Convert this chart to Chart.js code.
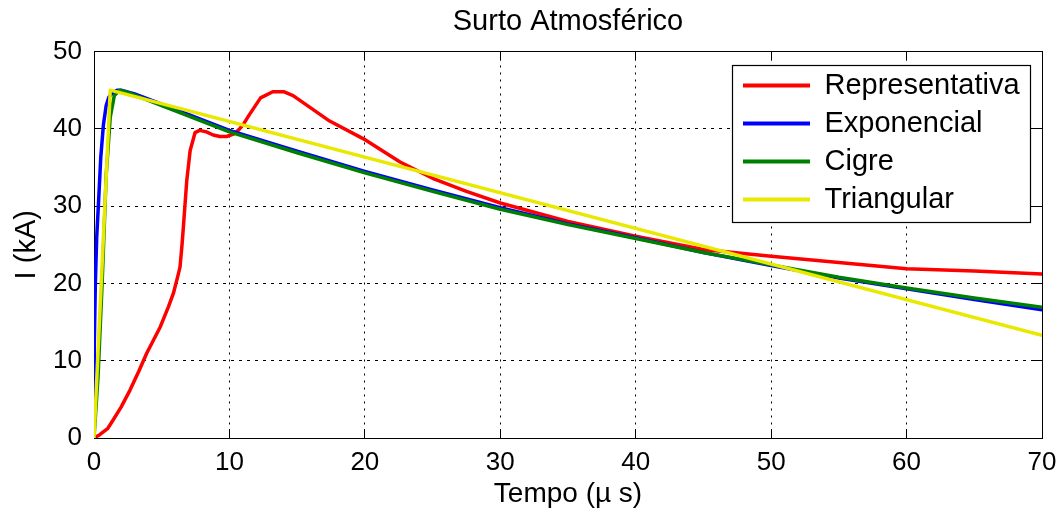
<!DOCTYPE html>
<html>
<head>
<meta charset="utf-8">
<script src="https://cdn.jsdelivr.net/npm/chart.js@4.4.1/dist/chart.umd.min.js"></script>
<style>
  html, body { margin: 0; padding: 0; background: #fff; }
  canvas { display: block; }
</style>
</head>
<body>
<canvas id="c" width="1061" height="513"></canvas>
<script>
// ---- data ----
const chartTitle = 'Surto Atmosférico';
const xTitle = 'Tempo (\u00b5 s)';
const yTitle = 'I (kA)';
const seriesNames = ['Representativa', 'Exponencial', 'Cigre', 'Triangular'];
const seriesColors = ['#ff0000', '#0000ff', '#008000', '#e8e800'];

const repT = [0, 0.4, 1.0, 1.4, 2.0, 2.66, 3.3, 3.9, 4.9, 5.5, 5.86, 6.2, 6.35, 6.5, 6.6, 6.85, 7.1, 7.46, 7.8, 8.3, 8.8, 9.3, 9.8, 10.3, 10.7, 11.0, 11.5, 12.3, 13.2, 14.0, 14.7, 16.0, 17.4, 19.9, 22.6, 25, 27.5, 30, 35, 40, 45, 50, 55, 60, 65, 70];
const repI = [0, 0.4, 1.2, 2.3, 4.0, 6.2, 8.6, 11.0, 14.4, 17.0, 18.7, 21.0, 22.1, 25.0, 27.3, 33.3, 37.2, 39.5, 39.8, 39.6, 39.2, 39.0, 39.0, 39.3, 39.9, 40.5, 41.9, 44.0, 44.8, 44.8, 44.3, 42.7, 41.0, 38.7, 35.7, 33.6, 31.9, 30.4, 28.0, 26.1, 24.4, 23.5, 22.7, 21.9, 21.6, 21.2];

const expT = [0, 0.02, 0.1, 0.2, 0.32, 0.5, 0.7, 0.9, 1.1, 1.4, 1.7, 2.0, 3, 5, 10, 15, 20, 25, 30, 35, 40, 45, 50, 55, 60, 65, 70];
const expI = [0, 12, 20, 26, 30, 36.3, 40.6, 43.0, 44.1, 44.7, 45.0, 45.0, 44.5, 43.2, 39.8, 37.1, 34.5, 32.1, 29.8, 27.7, 25.9, 24.0, 22.3, 20.7, 19.3, 17.9, 16.6];

const cigT = [0, 0.3, 0.6, 0.9, 1.2, 1.5, 1.9, 2.5, 5, 10, 15, 20, 25, 30, 35, 40, 45, 50, 55, 60, 65, 70];
const cigI = [0, 8, 20, 34, 41.5, 44.3, 45.0, 44.7, 43.0, 39.6, 36.9, 34.3, 31.9, 29.6, 27.6, 25.8, 24.0, 22.4, 20.8, 19.4, 18.1, 16.9];

const triT = [0, 1.2, 70];
const triI = [0, 45, 13.3];

const xTicksMin = 0, xTicksMax = 70, xStep = 10;
const yTicksMin = 0, yTicksMax = 50, yStep = 10;

// ---- build ----
function pts(ts, is) { return ts.map((t, k) => ({x: t, y: is[k]})); }
const seriesData = [pts(repT, repI), pts(expT, expI), pts(cigT, cigI), pts(triT, triI)];
const drawOrder = [4, 3, 2, 1]; // later series on top, like the original

Chart.defaults.font.family = "'Liberation Sans', Arial, Helvetica, sans-serif";
Chart.defaults.color = '#000';

const W = 1061;
const plotLeft = 94, plotRight = 1042, plotBottom = 438;

const legendPlacer = {
  id: 'legendPlacer',
  afterLayout(chart) {
    const lg = chart.legend;
    if (!lg) return;
    lg.left = 734; lg.top = 62; lg.right = 1031; lg.bottom = 240;
    lg.width = lg.right - lg.left; lg.height = lg.bottom - lg.top;
    if (!lg.__wrapped) {
      const orig = lg.draw;
      lg.draw = function (area) {
        const ctx = this.ctx;
        ctx.save();
        ctx.fillStyle = '#ffffff';
        ctx.fillRect(732, 65, 299, 158);
        ctx.strokeStyle = '#000';
        ctx.lineWidth = 1.2;
        ctx.strokeRect(732.5, 65.5, 298, 157);
        ctx.restore();
        orig.call(this, area);
      };
      lg.__wrapped = true;
    }
  }
};

const gridCommon = { color: '#000', lineWidth: 1, drawTicks: true, tickLength: -9, tickColor: '#000', tickWidth: 1 };

new Chart(document.getElementById('c'), {
  type: 'line',
  data: {
    datasets: seriesData.map((d, k) => ({
      label: seriesNames[k],
      data: d,
      borderColor: seriesColors[k],
      backgroundColor: seriesColors[k],
      borderWidth: 3.5,
      pointRadius: 0,
      tension: 0,
      fill: false,
      borderJoinStyle: 'round',
      borderCapStyle: 'round',
      order: drawOrder[k]
    }))
  },
  options: {
    responsive: false,
    devicePixelRatio: 1,
    animation: false,
    layout: { padding: 0 },
    plugins: {
      title: {
        display: true,
        text: chartTitle,
        fullSize: false,
        font: { size: 29, weight: 'normal' },
        color: '#000',
        padding: { top: 4.6, bottom: 12.1 }
      },
      legend: {
        display: true,
        position: 'chartArea',
        align: 'start',
        labels: {
          boxWidth: 67,
          boxHeight: 4,
          padding: 9,
          font: { size: 29 },
          color: '#000',
          generateLabels: (chart) => chart.data.datasets.map((ds, i) => ({
            text: ds.label, fillStyle: ds.borderColor, strokeStyle: ds.borderColor,
            lineWidth: 0, hidden: false, datasetIndex: i, fontColor: '#000'
          }))
        }
      },
      tooltip: { enabled: false }
    },
    scales: {
      x: {
        type: 'linear', position: 'bottom', min: xTicksMin, max: xTicksMax,
        afterFit: (s) => { s.height = 513 - plotBottom; s.paddingLeft = 0; s.paddingRight = 0; },
        ticks: { stepSize: xStep, autoSkip: false, maxRotation: 0, font: { size: 26 }, padding: 18.4, color: '#000' },
        grid: gridCommon,
        border: { display: true, color: '#000', width: 1, dash: [2, 5] },
        title: { display: true, text: xTitle, font: { size: 28 }, color: '#000', padding: { top: 0, bottom: 2 } }
      },
      y: {
        type: 'linear', position: 'left', min: yTicksMin, max: yTicksMax,
        afterFit: (s) => { s.width = plotLeft; s.paddingTop = 0; s.paddingBottom = 0; },
        ticks: { stepSize: yStep, font: { size: 26 }, padding: 21, color: '#000' },
        grid: gridCommon,
        border: { display: true, color: '#000', width: 1, dash: [3, 5] },
        title: { display: true, text: yTitle, font: { size: 29 }, color: '#000', padding: { top: 10, bottom: 0 } }
      },
      x2: {
        type: 'linear', position: 'top', min: xTicksMin, max: xTicksMax,
        afterFit: (s) => { s.height = 0; s.paddingLeft = 0; s.paddingRight = 0; },
        ticks: { stepSize: xStep, display: false },
        grid: Object.assign({}, gridCommon, { drawOnChartArea: false }),
        border: { display: true, color: '#000', width: 1 }
      },
      y2: {
        type: 'linear', position: 'right', min: yTicksMin, max: yTicksMax,
        afterFit: (s) => { s.width = W - plotRight; s.paddingTop = 0; s.paddingBottom = 0; },
        ticks: { stepSize: yStep, display: false },
        grid: Object.assign({}, gridCommon, { drawOnChartArea: false }),
        border: { display: true, color: '#000', width: 1 }
      }
    }
  },
  plugins: [legendPlacer]
});
</script>
</body>
</html>
